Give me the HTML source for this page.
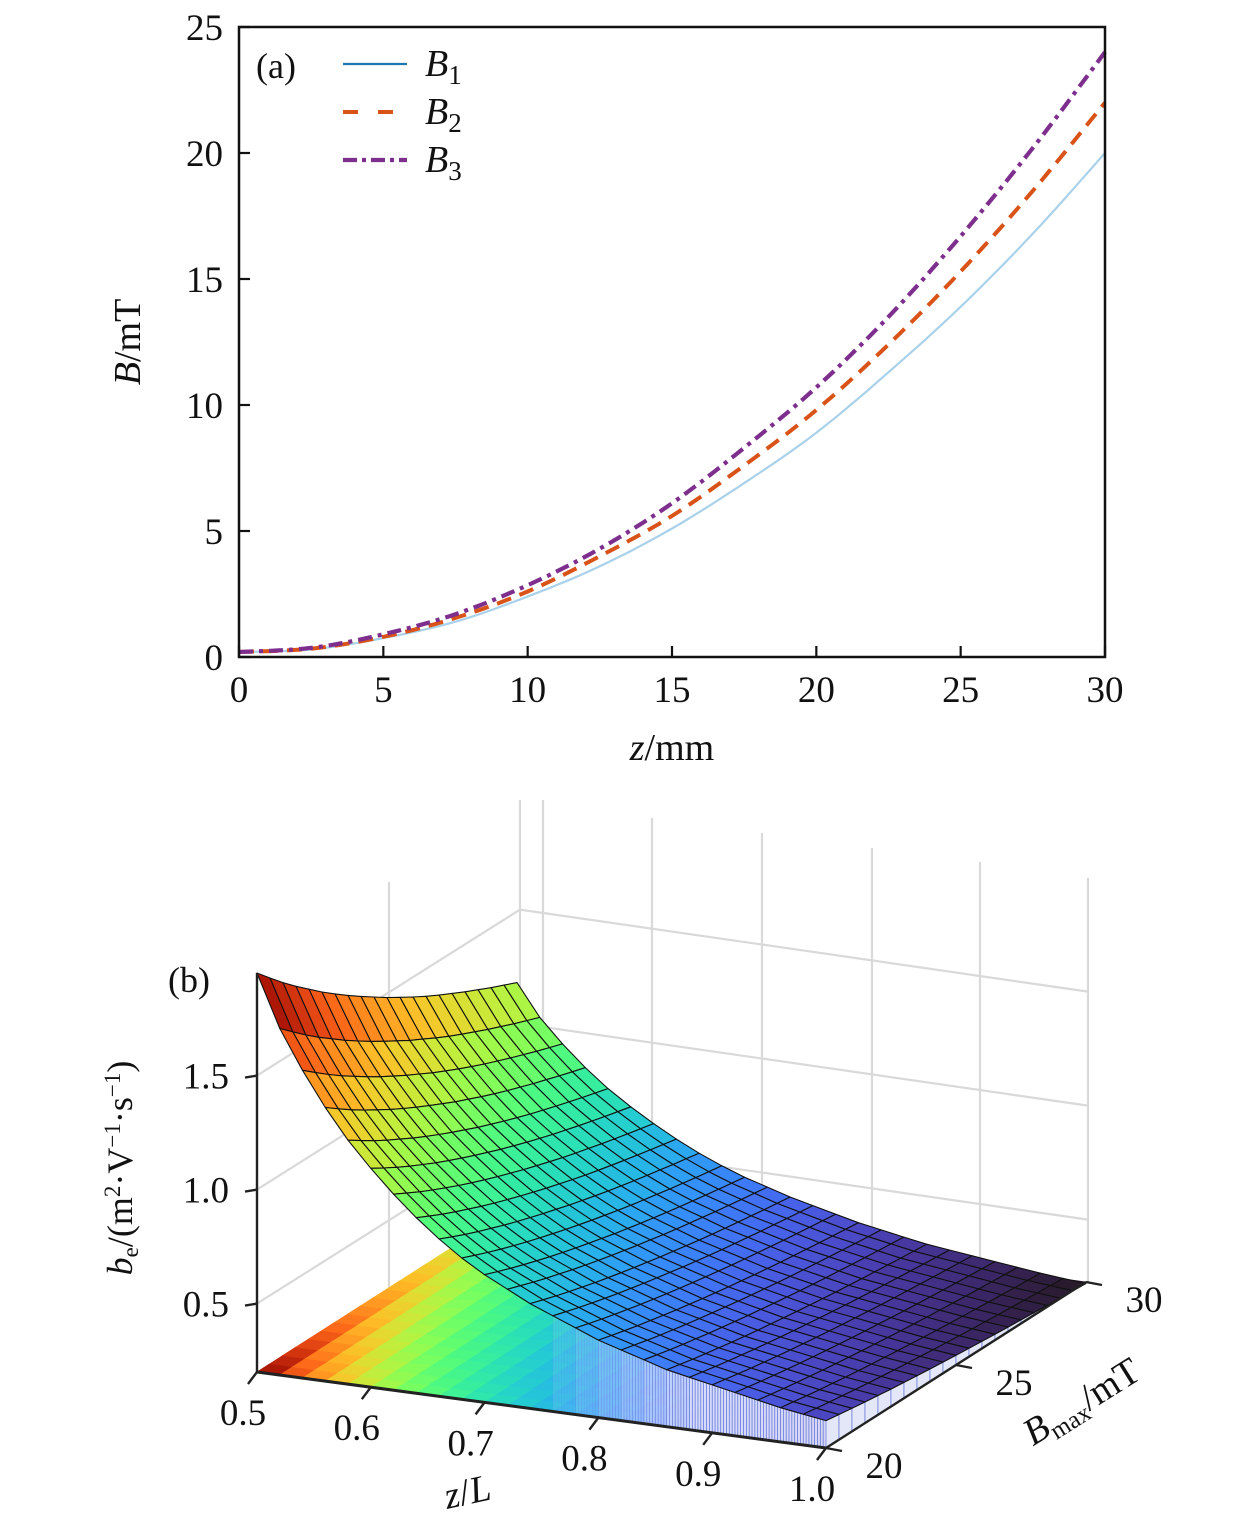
<!DOCTYPE html>
<html><head><meta charset="utf-8"><style>
html,body{margin:0;padding:0;background:#fff}
svg{display:block}
text{font-family:"Liberation Serif",serif;fill:#111}
</style></head><body>
<svg id="fig" width="1260" height="1528" viewBox="0 0 1260 1528">
<g id="topG"></g>
<g id="botG"></g>
</svg>
<script>
// ---- Chart (a) data ----
const zMM = [0,2.5,5,7.5,10,12.5,15,17.5,20,22.5,25,27.5,30];
const B1 = [0.2,0.3,0.75,1.4,2.4,3.6,5.1,6.9,8.9,11.3,13.9,16.8,20.0];
const B2 = [0.2,0.33,0.8,1.55,2.6,4.0,5.6,7.6,9.8,12.4,15.3,18.5,22.0];
const B3 = [0.2,0.36,0.9,1.7,2.85,4.3,6.1,8.3,10.7,13.5,16.7,20.2,24.0];
const xTicksA = [0,5,10,15,20,25,30];
const yTicksA = [0,5,10,15,20,25];

// ---- Chart (b) data ----
const zL = [0.5,0.52,0.54,0.56,0.58,0.6,0.62,0.64,0.66,0.68,0.7,0.72,0.74,0.76,0.78,0.8,0.82,0.84,0.86,0.88,0.9,0.92,0.94,0.96,0.98,1.0];
const beAt20 = [1.95,1.72,1.55,1.40,1.27,1.16,1.06,0.97,0.89,0.82,0.76,0.71,0.66,0.62,0.58,0.54,0.51,0.48,0.45,0.43,0.41,0.39,0.37,0.35,0.335,0.32];
const Bmax = [20,20.5,21,21.5,22,22.5,23,23.5,24,24.5,25,25.5,26,26.5,27,27.5,28,28.5,29,29.5,30];
const bRatio = [1,0.97,0.941,0.914,0.889,0.864,0.841,0.819,0.798,0.778,0.758,0.74,0.722,0.705,0.689,0.674,0.659,0.645,0.631,0.618,0.605];
const zLTicks = [0.5,0.6,0.7,0.8,0.9,1.0];
const BTicks = [20,25,30];
const beTicks = [0.5,1.0,1.5];

const NS="http://www.w3.org/2000/svg";
function mk(parent,tag,attrs,txt){const e=document.createElementNS(NS,tag);for(const k in attrs)e.setAttribute(k,attrs[k]);if(txt!==undefined)e.textContent=txt;parent.appendChild(e);return e;}

// ===== Chart (a) =====
const topG=document.getElementById('topG');
const X0=239,X1=1105,Y0=657,Y1=27;
const xa=v=>X0+(v-0)/30*(X1-X0);
const ya=v=>Y0-(v-0)/25*(Y0-Y1);
function smooth(xs,ys){let pts=[];for(let i=0;i<xs.length-1;i++){const p0=i>0?i-1:i,p3=i+2<xs.length?i+2:i+1;for(let t=0;t<1;t+=0.1){const t2=t*t,t3=t2*t;const f=(a,b,c,d)=>0.5*((2*b)+(-a+c)*t+(2*a-5*b+4*c-d)*t2+(-a+3*b-3*c+d)*t3);pts.push([f(xa(xs[p0]),xa(xs[i]),xa(xs[i+1]),xa(xs[p3])),f(ya(ys[p0]),ya(ys[i]),ya(ys[i+1]),ya(ys[p3]))]);}}pts.push([xa(xs[xs.length-1]),ya(ys[ys.length-1])]);return pts.map((p,i)=>(i?'L':'M')+p[0].toFixed(1)+','+p[1].toFixed(1)).join('');}
let c;
c=mk(topG,'path',{d:smooth(zMM,B1),fill:'none',stroke:'#a9d1ea','stroke-width':2.2});


c=mk(topG,'path',{d:smooth(zMM,B2),fill:'none',stroke:'#d95319','stroke-width':4,'stroke-dasharray':'15,9'});


c=mk(topG,'path',{d:smooth(zMM,B3),fill:'none',stroke:'#7e2f8e','stroke-width':4.2,'stroke-dasharray':'14,6,4,6'});


c=mk(topG,'rect',{x:X0,y:Y1,width:X1-X0,height:Y0-Y1,fill:'none',stroke:'#111','stroke-width':2.5});


xTicksA.forEach(v=>{c=mk(topG,'line',{x1:xa(v),x2:xa(v),y1:Y0,y2:Y0-11,stroke:'#111','stroke-width':2.2});


c=mk(topG,'text',{x:xa(v),y:Y0+45,'font-size':37,'text-anchor':'middle'},v);

});
yTicksA.forEach(v=>{c=mk(topG,'line',{x1:X0,x2:X0+11,y1:ya(v),y2:ya(v),stroke:'#111','stroke-width':2.2});


c=mk(topG,'text',{x:X0-16,y:ya(v)+13,'font-size':37,'text-anchor':'end'},v);

});
c=mk(topG,'text',{x:672,y:760,'font-size':38,'text-anchor':'middle'});c.innerHTML='<tspan font-style="italic">z</tspan>/mm';


c=mk(topG,'text',{x:0,y:0,'font-size':38,'text-anchor':'middle',transform:'translate(140,342) rotate(-90)'});c.innerHTML='<tspan font-style="italic">B</tspan>/mT';


c=mk(topG,'text',{x:256,y:78,'font-size':36},'(a)');


const leg=[['#1f77b4','none',2.2,'1'],['#d95319','15,20',4,'2'],['#7e2f8e','14,5,4,5',4.2,'3']];
leg.forEach((l,i)=>{const y=64+i*48;c=mk(topG,'line',{x1:343,x2:407,y1:y,y2:y,stroke:l[0],'stroke-width':l[2],'stroke-dasharray':l[1]});


c=mk(topG,'text',{x:425,y:y+12,'font-size':38});c.innerHTML='<tspan font-style="italic">B</tspan><tspan font-size="27" dy="8">'+l[3]+'</tspan>';

});

// ===== Chart (b) =====
const botG=document.getElementById('botG');
const WMIN=0.2;
const P=(u,v,w)=>[257+569*u+260*v, 1372+76*u-166*v-(w-WMIN)*228];
const uOf=z=>(z-0.5)/0.5, vOf=b=>(b-20)/10;
function turbo(x){x=Math.max(0,Math.min(1,x));
const r=0.13572138+x*(4.6153926+x*(-42.66032258+x*(132.13108234+x*(-152.94239396+x*59.28637943))));
const g=0.09140261+x*(2.19418839+x*(4.84296658+x*(-14.18503333+x*(4.27729857+x*2.82956604))));
const b=0.1066733+x*(12.64194608+x*(-60.58204836+x*(110.36276771+x*(-89.90310912+x*27.34824973))));
const f=t=>Math.round(Math.max(0,Math.min(1,t))*255);return `rgb(${f(r)},${f(g)},${f(b)})`;}
const cmap=w=>turbo((w-0.19)/(1.95-0.19));
const val=(i,j)=>beAt20[i]*bRatio[j];
const gray={stroke:'#d9d9d9','stroke-width':2.2,fill:'none'};
const bg=mk(botG,'g',{});


beTicks.forEach(w=>{const a=P(0,0,w),b=P(0,1,w),d=P(1,1,w);
mk(bg,'path',Object.assign({d:`M${a[0]},${a[1]}L${b[0]+3},${b[1]}L${d[0]+2},${d[1]+6}`},gray));});
[[389,882,1290],[520,800,1206],[543,800,1209],[652,818,1224],[762,833,1238],[872,848,1253],[980,862,1268],[1088,878,1282]].forEach(l=>mk(bg,'line',Object.assign({x1:l[0],x2:l[0],y1:l[1],y2:l[2]},gray)));
const fl=mk(botG,'g',{});


for(let i=0;i<zL.length-1;i++)for(let j=0;j<Bmax.length-1;j++){
const pts=[[i,j],[i+1,j],[i+1,j+1],[i,j+1]].map(([a,b])=>P(uOf(zL[a]),vOf(Bmax[b]),WMIN));
const w=(val(i,j)+val(i+1,j+1))/2;
mk(fl,'polygon',{points:pts.map(p=>p.join(',')).join(' '),fill:cmap(w),stroke:cmap(w),'stroke-width':0.8});}
const sk=mk(botG,'g',{});


for(let i=0;i<zL.length-1;i++){if(zL[i]<0.74)continue;
const op=Math.min(1,(zL[i]-0.74)/0.14);
const a=P(uOf(zL[i]),0,val(i,0)),b=P(uOf(zL[i+1]),0,val(i+1,0)),c2=P(uOf(zL[i+1]),0,WMIN),d=P(uOf(zL[i]),0,WMIN);
mk(sk,'polygon',{points:[a,b,c2,d].map(p=>p.join(',')).join(' '),fill:'#eef0fb','fill-opacity':0.85*op,stroke:'none'});
for(let k=0;k<8;k++){const t=k/8,x=a[0]+(b[0]-a[0])*t,y1=a[1]+(b[1]-a[1])*t,y2=d[1]+(c2[1]-d[1])*t;
mk(sk,'line',{x1:x,x2:x,y1:y1,y2:y2,stroke:'#5468d8','stroke-width':0.7,'stroke-opacity':op});}}
{const iL=zL.length-1;for(let j=0;j<Bmax.length-1;j++){
const a=P(1,vOf(Bmax[j]),val(iL,j)),b=P(1,vOf(Bmax[j+1]),val(iL,j+1)),c2=P(1,vOf(Bmax[j+1]),WMIN),d=P(1,vOf(Bmax[j]),WMIN);
mk(sk,'polygon',{points:[a,b,c2,d].map(p=>p.join(',')).join(' '),fill:'#e4e7f8',stroke:'#5468d8','stroke-width':0.6});}}
const sf=mk(botG,'g',{});


const quads=[];
for(let i=0;i<zL.length-1;i++)for(let j=0;j<Bmax.length-1;j++)quads.push([i,j,(i)-(j*1.3)]);
quads.sort((a,b)=>a[2]-b[2]);
quads.forEach(([i,j])=>{
const pts=[[i,j],[i+1,j],[i+1,j+1],[i,j+1]].map(([a,b])=>P(uOf(zL[a]),vOf(Bmax[b]),val(a,b)));
const w=(val(i,j)+val(i+1,j)+val(i+1,j+1)+val(i,j+1))/4;
const q=mk(sf,'polygon',{points:pts.map(p=>p.map(n=>n.toFixed(1)).join(',')).join(' '),fill:cmap(w),stroke:'#111','stroke-width':1.1,'stroke-linejoin':'round'});

});
const ax=mk(botG,'g',{});


{const t=P(0,0,val(0,0)),o=P(0,0,WMIN),e=P(1,0,WMIN),f=P(1,1,WMIN);
mk(ax,'line',{x1:o[0],y1:o[1],x2:t[0],y2:t[1],stroke:'#222','stroke-width':2.4});
mk(ax,'line',{x1:o[0],y1:o[1],x2:e[0],y2:e[1],stroke:'#222','stroke-width':3});
mk(ax,'line',{x1:e[0],y1:e[1],x2:f[0],y2:f[1],stroke:'#222','stroke-width':2.4});}
beTicks.forEach(w=>{const p=P(0,0,w);
c=mk(ax,'line',{x1:p[0]-12,x2:p[0],y1:p[1]+2,y2:p[1],stroke:'#222','stroke-width':2.4});


c=mk(ax,'text',{x:p[0]-28,y:p[1]+13,'font-size':37,'text-anchor':'end'},w.toFixed(1));

});
zLTicks.forEach(z=>{const p=P(uOf(z),0,WMIN);
c=mk(ax,'line',{x1:p[0],y1:p[1],x2:p[0]-9,y2:p[1]+12,stroke:'#222','stroke-width':2.4});


c=mk(ax,'text',{x:p[0]-14,y:p[1]+53,'font-size':37,'text-anchor':'middle'},z.toFixed(1));

});
BTicks.forEach(b=>{const p=P(1,vOf(b),WMIN);
c=mk(ax,'line',{x1:p[0],y1:p[1],x2:p[0]+16,y2:p[1]+3,stroke:'#222','stroke-width':2.4});


c=mk(ax,'text',{x:p[0]+58,y:p[1]+30,'font-size':37,'text-anchor':'middle'},b);

});
c=mk(botG,'text',{x:0,y:0,'font-size':38,'text-anchor':'middle',transform:'translate(470,1504) rotate(-12)'});c.innerHTML='<tspan font-style="italic">z</tspan>/<tspan font-style="italic">L</tspan>';


c=mk(botG,'text',{x:0,y:0,'font-size':38,'text-anchor':'middle',transform:'translate(1088,1412) rotate(-32)'});c.innerHTML='<tspan font-style="italic">B</tspan><tspan font-size="25" dy="7">max</tspan><tspan dy="-7">/mT</tspan>';


c=mk(botG,'text',{x:0,y:0,'font-size':36,'text-anchor':'middle',transform:'translate(132,1168) rotate(-90)'});c.innerHTML='<tspan font-style="italic">b</tspan><tspan font-size="23" dy="6">e</tspan><tspan dy="-6">/(m</tspan><tspan font-size="23" dy="-12">2</tspan><tspan dy="12">·V</tspan><tspan font-size="23" dy="-12">−1</tspan><tspan dy="12">·s</tspan><tspan font-size="23" dy="-12">−1</tspan><tspan dy="12">)</tspan>';


c=mk(botG,'text',{x:168,y:992,'font-size':36},'(b)');


</script>
</body></html>
